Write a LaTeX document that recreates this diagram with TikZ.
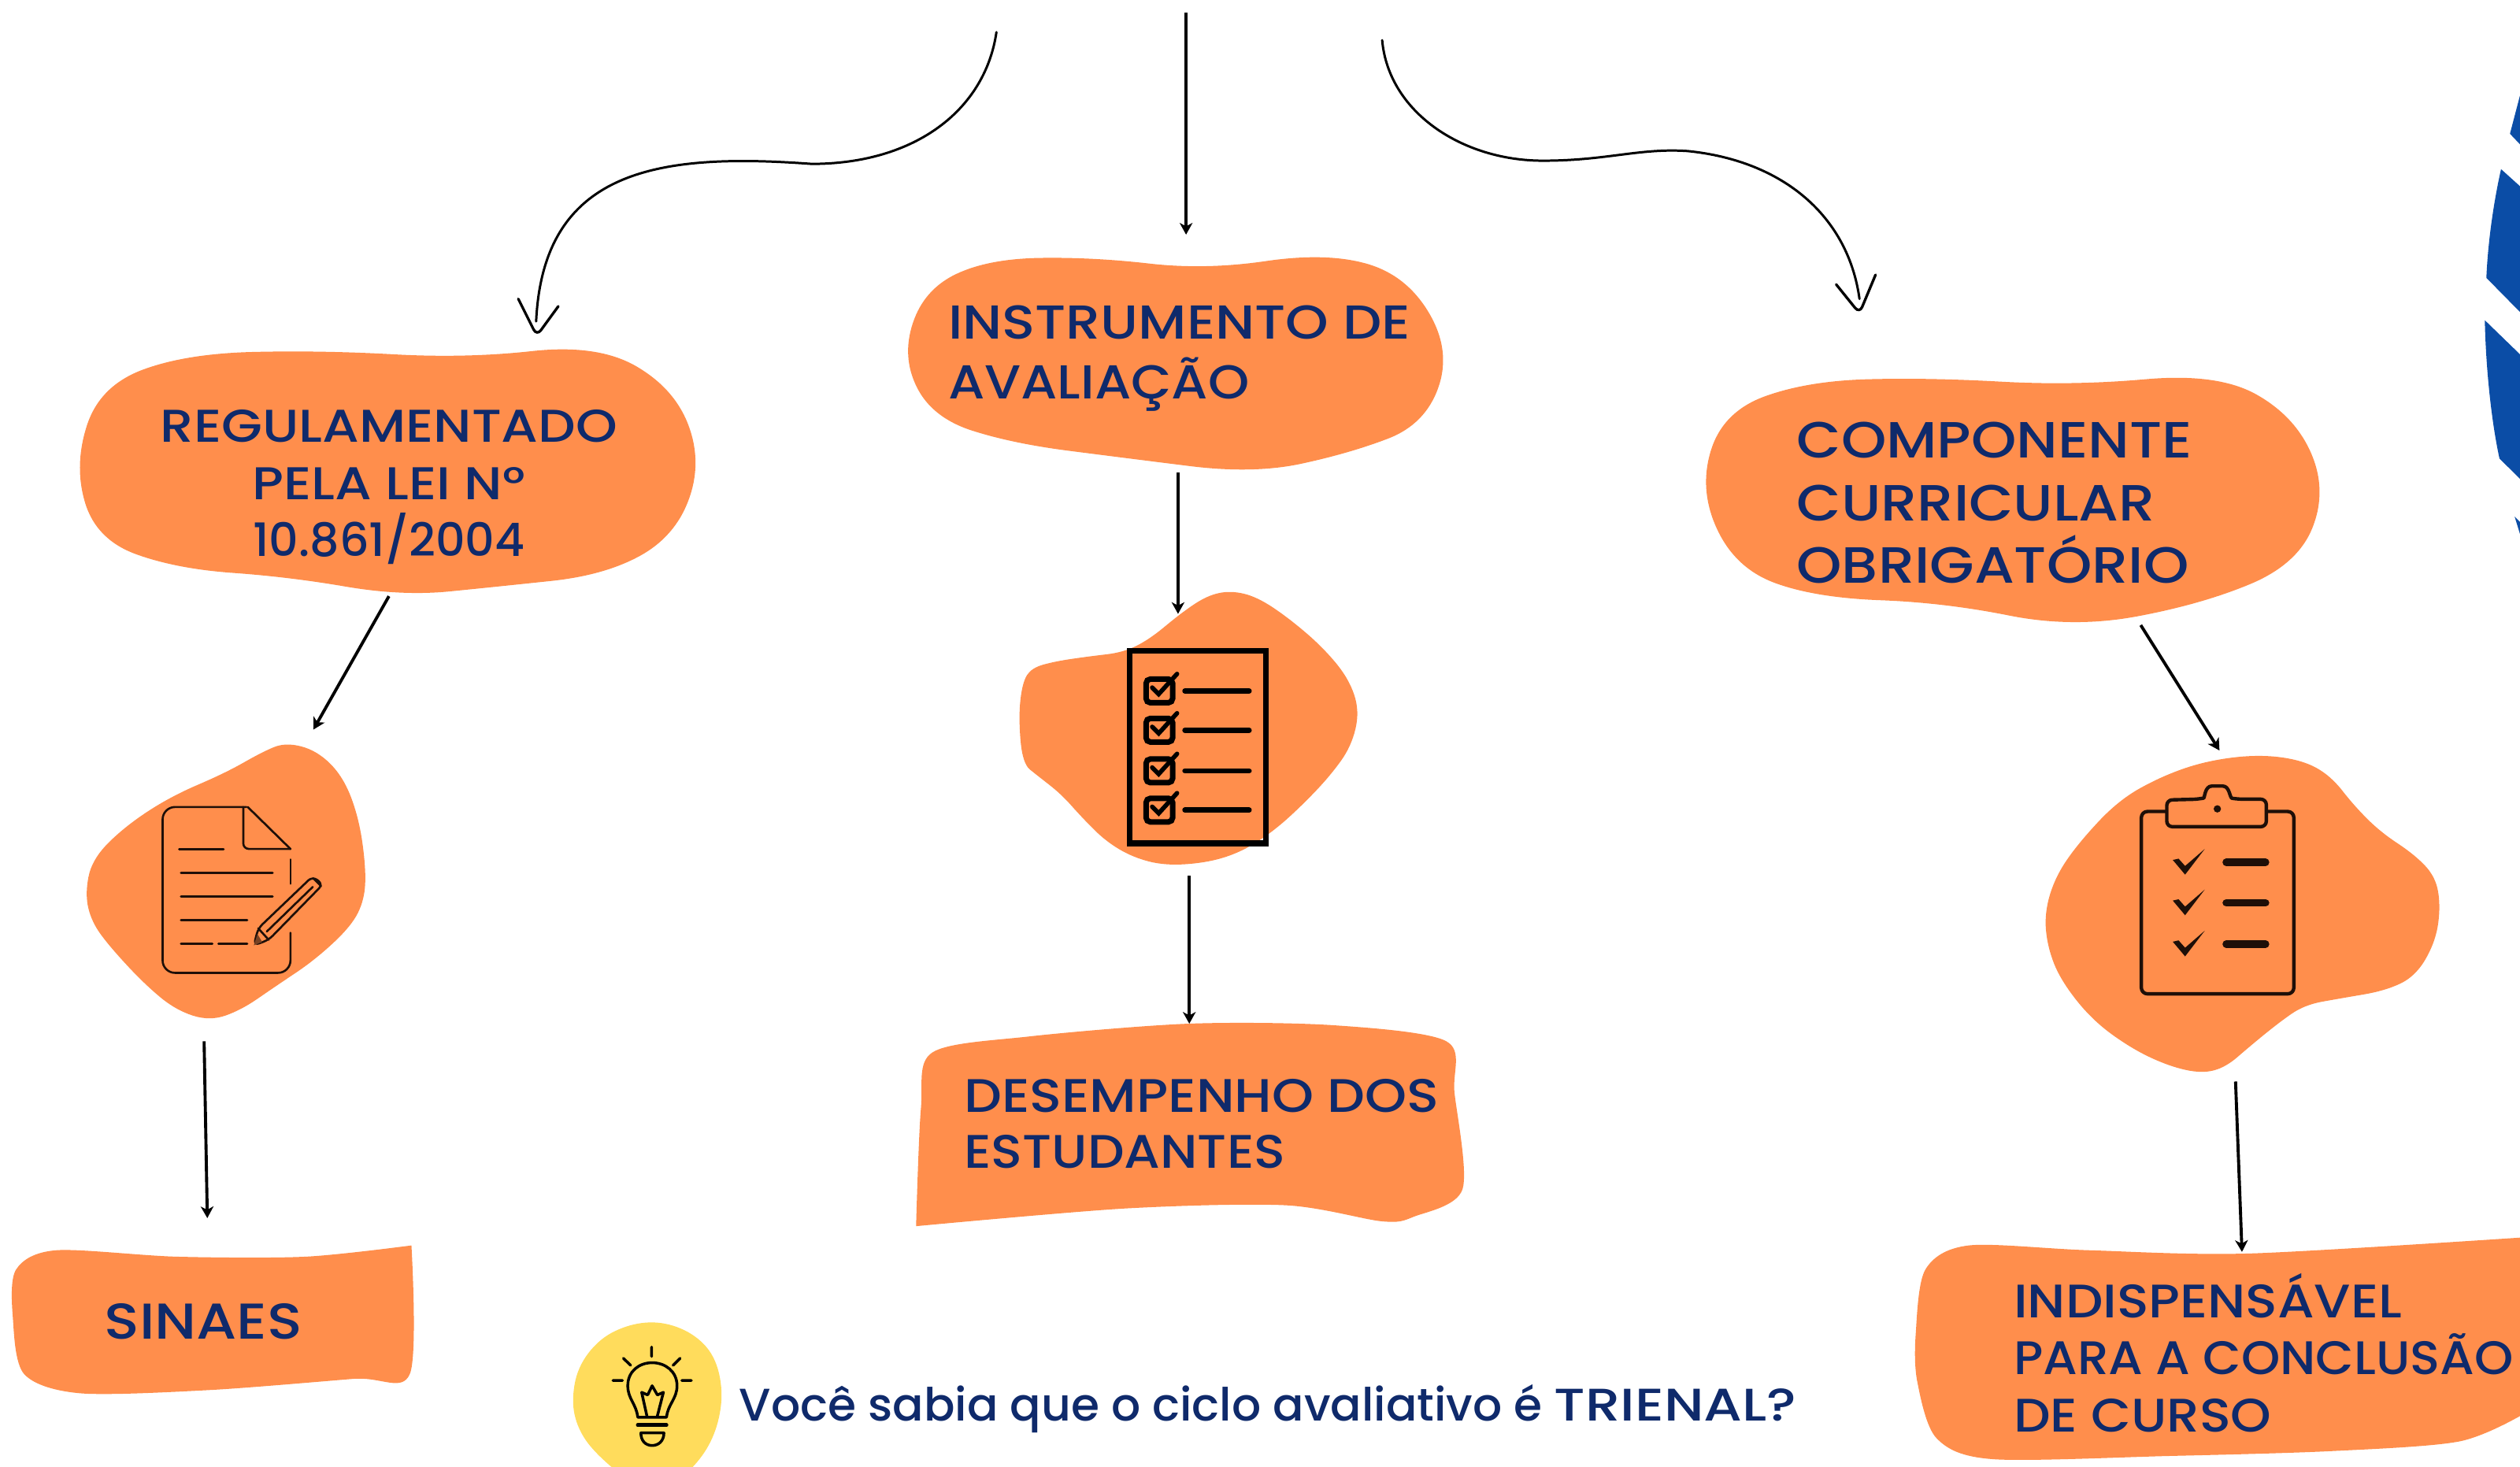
\documentclass[tikz,border=0pt]{standalone}
\usepackage{fontspec}
\setmainfont{Poppins Medium}
\newfontfamily\fsN[FakeStretch=1.005]{Poppins Medium}
\newfontfamily\fsE[FakeStretch=1.05]{Poppins Medium}
\newfontfamily\fsJ[FakeStretch=1.10]{Poppins Medium}
\newfontfamily\fsL[FakeStretch=1.12]{Poppins Medium}
\newfontfamily\fsM[FakeStretch=1.13]{Poppins Medium}
\newfontfamily\fsO[FakeStretch=1.15]{Poppins Medium}
\newfontfamily\fsT[FakeStretch=1.21]{Poppins Medium}
\usetikzlibrary{arrows.meta}
\definecolor{blobc}{HTML}{FF8E4C}
\definecolor{navyc}{HTML}{0F2A6B}
\definecolor{bluec}{HTML}{0B4DA6}
\definecolor{yelc}{HTML}{FFDC5C}
\definecolor{inkc}{HTML}{1E0F08}
\tikzset{
 x=0.0204082cm,y=-0.0204082cm,
 blob/.style={fill=blobc,draw=none},
 sunblob/.style={fill=yelc,draw=none},
 label/.style={inner sep=0pt,outer sep=0pt,text=navyc,align=left,anchor=base west},
 conn/.style={draw=black,line width=1.1pt,-{Stealth[length=4.2pt,width=4.6pt,inset=1.2pt]}},
 curve/.style={draw=black,line width=0.85pt,line cap=round},
 barb/.style={draw=black,line width=0.95pt,line cap=round,rounded corners=2.5pt},
 zoomed/.style 2 args={shift={({#1*0.49},{#2*0.49})},x=0.00333333cm,y=-0.00333333cm},
 ink/.style={draw=inkc,line cap=round,line join=round},
}
% smooth closed outline (quadratic spline through edge midpoints):
% #1 style, #2/#3 first vertex, #4/#5 last vertex, #6 the vertices after the first, last included
\newcommand\sblob[6]{%
 \path[#1] ({(#2+#4)/2},{(#3+#5)/2})
  \foreach \px/\py [remember=\lx as \llx (initially #4),remember=\ly as \lly (initially #5),
                    remember=\px as \lx (initially #2),remember=\py as \ly (initially #3)] in {#6,#2/#3}
   { .. controls ({(\llx+5*\lx)/6},{(\lly+5*\ly)/6}) and ({(\px+5*\lx)/6},{(\py+5*\ly)/6}) .. ({(\px+\lx)/2},{(\py+\ly)/2}) }
  -- cycle;}
\begin{document}
\begin{tikzpicture}
\useasboundingbox (0,0) rectangle (1568,912.87);
\clip (0,0) rectangle (1568,912.87);
% blue shape at right
\begin{scope}[zoomed={3100}{100}]
\fill[bluec] (262,210)--(300,65)--(300,250)--cycle;
\fill[bluec] (228,345)--(300,410)--(300,890)--(172,760) .. controls (178,620) and (200,470) .. (228,345)--cycle;
\end{scope}
\begin{scope}[zoomed={3100}{400}]
\fill[bluec] (166,20)--(300,150)--(300,625)--(222,548) .. controls (190,400) and (170,200) .. (166,20)--cycle;
\fill[bluec] (280,770)--(300,790)--(300,835)--cycle;
\end{scope}
% text blobs
\sblob{blob}{46}{290}{60}{336}{62/240,116/220,200/218,290/223,372/214,420/242,437/288,420/334,376/358,310/365,250/371,180/359,110/354,60/336}
\sblob{blob}{561}{222}{580}{260}{575/180,615/161,680/160,750/168,825/157,875/171,903/218,887/264,840/282,780/295,700/285,630/276,580/260}
\sblob{blob}{1057}{305}{1080}{354}{1072/256,1125/237,1200/235,1290/240,1380/232,1428/259,1448/305,1430/351,1370/376,1290/391,1210/375,1130/372,1080/354}
\fill[blob] plot[smooth,tension=0.5] coordinates {(256,775)(255,855)(220,858)(130,865)(50,867)(15,855)(8,820)(10,790)(35,778)(110,782)(190,782)(256,775)} -- cycle;
\fill[blob] plot[smooth,tension=0.5] coordinates {(570,763)(573,690)(580,655)(640,645)(740,637)(830,638)(900,648)(905,680)(910,740)(880,757)(860,760)(800,750)(700,752)(570,763)} -- cycle;
\fill[blob] plot[smooth,tension=0.5] coordinates {(1570,770)(1400,780)(1300,778)(1225,775)(1198,790)(1192,830)(1193,860)(1205,895)(1240,908)(1350,906)(1450,903)(1530,897)(1570,880)} -- cycle;
% document blob and icon
\begin{scope}[zoomed={100}{940}]
\sblob{blob}{24}{590}{50}{695}{50/455,175/330,350/215,560/125,700/45,790/8,910/40,1010/140,1070/300,1096/490,1090/610,1040/710,900/840,750/940,620/1030,500/1072,370/1030,250/930,120/790,50/695}
\draw[ink,line width=0.75pt,rounded corners=4.5pt] (640,255)--(320,255)--(320,888)--(808,888)--(808,735);
\draw[ink,line width=0.75pt] (808,455)--(808,548);
\draw[ink,line width=0.75pt,rounded corners=2pt] (628,255)--(628,415)--(808,415);
\draw[ink,line width=0.75pt] (808,415)--(645,255);
\draw[ink,line width=0.75pt] (383,417)--(553,417) (390,507)--(740,507) (390,597)--(740,597) (390,687)--(643,687) (390,777)--(510,777) (533,777)--(643,777);
\draw[ink,line width=0.75pt,rounded corners=2pt] (668,783)--(685,718)--(892,520)--(932,550)--(725,762)--cycle;
\draw[ink,line width=0.75pt] (718,730)--(893,560) (895,527)--(925,557) (685,718)--(725,762);
\fill[inkc!60!blobc] (668,783)--(682,740)--(700,770)--cycle;
\end{scope}
% checklist blob and icon
\begin{scope}[zoomed={1300}{750}]
\sblob{blob}{-20}{480}{-5}{660}{-5/350,30/295,120/270,250/251,380/236,480/186,600/86,700/19,790/0,890/24,1010/104,1140/215,1240/335,1282/460,1250/595,1170/706,1066/816,956/916,834/996,704/1038,540/1050,416/1018,312/956,222/866,142/776,52/706,-5/660}
\draw[black,line width=2.1pt,line join=miter] (405,230) rectangle (925,965);
\foreach \yy in {0,150,305,455}{
 \draw[black,line width=2pt,rounded corners=1.5pt] (467,{338+\yy}) rectangle (568,{428+\yy});
 \draw[black,line width=1.6pt,line cap=round] (490,{370+\yy})--(515,{395+\yy})--(585,{318+\yy});
 \draw[black,line width=1.9pt,line cap=round] (615,{383+\yy})--(860,{383+\yy});
}
\end{scope}
% clipboard blob and icon
\begin{scope}[zoomed={2600}{960}]
\sblob{blob}{-12}{600}{0}{730}{30/460,120/330,270/170,430/80,600/20,800/-6,970/15,1080/75,1170/190,1270/290,1400/376,1480/460,1500/570,1482/706,1406/840,1290/896,1120/925,980/950,880/1020,770/1110,680/1188,590/1212,466/1185,322/1118,170/1008,50/856,0/730}
\draw[ink,line width=1.25pt,rounded corners=2.2pt] (450,212)--(358,212)--(358,908)--(940,908)--(940,212)--(840,212);
\draw[ink,line width=1.25pt,rounded corners=2pt] (455,215)--(455,168)--(575,165) .. controls (600,160) and (600,115) .. (648,115) .. controls (695,115) and (695,160) .. (725,165)--(835,165)--(835,270)--(455,270)--cycle;
\fill[inkc] (648,202) circle (14);
\foreach \yy in {0,155,312}{
 \fill[inkc] (478,{397+\yy})--(500,{392+\yy})--(525,{420+\yy})--(600,{355+\yy})--(525,{453+\yy})--cycle;
 \draw[ink,line width=2.7pt] (682,{406+\yy})--(832,{406+\yy});
}
\end{scope}
% lamp blob and icon
\begin{scope}[zoomed={700}{1660}]
\sblob{sunblob}{78}{360}{100}{460}{100/230,184/120,300/64,420/54,540/98,624/184,656/320,636/456,580/570,480/670,300/670,160/550,100/460}
\draw[ink,line width=1pt,black] (383,152)--(383,188) (275,195)--(303,222) (492,195)--(465,222) (235,280)--(272,280) (498,280)--(535,280);
\draw[ink,line width=1pt,black] (330,420) .. controls (325,370) and (292,350) .. (292,300) .. controls (292,245) and (335,212) .. (385,212) .. controls (435,212) and (480,245) .. (480,300) .. controls (480,350) and (445,370) .. (440,420)--cycle;
\draw[ink,line width=1pt,black] (365,415)--(345,325)--(368,335)--(385,300)--(405,335)--(428,325)--(405,415);
\draw[ink,line width=1.3pt,black] (330,450)--(440,450);
\draw[ink,line width=1pt,black] (342,480)--(430,480) .. controls (430,510) and (410,528) .. (385,528) .. controls (360,528) and (342,510) .. (342,480)--cycle;
\end{scope}
% texts
\node[label,align=center,anchor=base,font=\fontsize{16.6}{20.5}\selectfont] (reg) at (242,346) {{\fsO REGULAMENTADO}\\{\fsO PELA LEI N°}\\{\fsN 10.861/2004}};
\node[label,font=\fontsize{17.2}{21.4}\selectfont] (ins) at (590,248) {{\fsO INSTRUMENTO DE}\\{\fsJ AVALIAÇÃO}};
\node[label,font=\fsM\fontsize{18.4}{22.6}\selectfont] (comp) at (1118,363) {COMPONENTE\\CURRICULAR\\OBRIGATÓRIO};
\node[label,font=\fontsize{17}{20.3}\selectfont] (des) at (600,727) {{\fsM DESEMPENHO DOS}\\{\fsJ ESTUDANTES}};
\node[label,font=\fsO\fontsize{18.2}{22}\selectfont] (sin) at (65,833) {SINAES};
\node[label,font=\fontsize{17}{20.6}\selectfont] (ind) at (1253,891) {{\fsL INDISPENSÁVEL}\\{\fsE PARA A CONCLUSÃO}\\{\fsJ DE CURSO}};
\node[label,font=\fsN\fontsize{16.5}{20}\selectfont] (tri) at (460,884) {Você sabia que o ciclo avaliativo é {\fsT TRIENAL?}};
% connectors
\coordinate (c1s) at (620,20); \coordinate (c1e) at (333.6,200);
\coordinate (c2s) at (738,8);  \coordinate (c2e) at (738,146);
\coordinate (c3s) at (860,25); \coordinate (c3e) at (1157,186);
\coordinate (h1a) at (322.5,186); \coordinate (h1t) at (334,209); \coordinate (h1b) at (347.4,190.6);
\coordinate (h3a) at (1142.5,177); \coordinate (h3t) at (1157,195); \coordinate (h3b) at (1167,171);
\coordinate (a1s) at (242,371); \coordinate (a1e) at (195,454);
\coordinate (a2s) at (127,648); \coordinate (a2e) at (129,758);
\coordinate (b1s) at (733,294); \coordinate (b1e) at (733,382);
\coordinate (b2s) at (740,545); \coordinate (b2e) at (740,637);
\coordinate (d1s) at (1332,389); \coordinate (d1e) at (1381,467);
\coordinate (d2s) at (1391,673); \coordinate (d2e) at (1395,779);
\draw[curve] (c1s) .. controls (613,68) and (570,102) .. (505,102) .. controls (410,95) and (338,105) .. (c1e);
\draw[barb] (h1a) -- (h1t) -- (h1b);
\draw[conn] (c2s) -- (c2e);
\draw[curve] (c3s) .. controls (864,70) and (910,100) .. (960,100) .. controls (1000,100) and (1020,92) .. (1050,94) .. controls (1110,100) and (1150,135) .. (c3e);
\draw[barb] (h3a) -- (h3t) -- (h3b);
\draw[conn] (a1s) -- (a1e);
\draw[conn] (a2s) -- (a2e);
\draw[conn] (b1s) -- (b1e);
\draw[conn] (b2s) -- (b2e);
\draw[conn] (d1s) -- (d1e);
\draw[conn] (d2s) -- (d2e);
\end{tikzpicture}
\end{document}
